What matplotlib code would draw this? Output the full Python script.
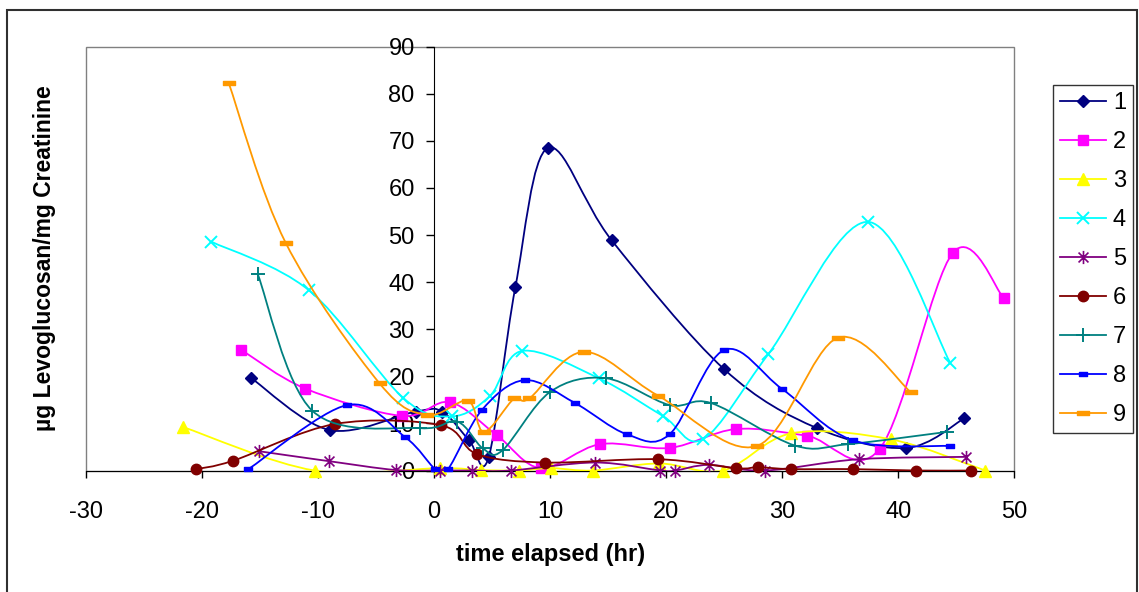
import numpy as np
import matplotlib
matplotlib.use("Agg")
import matplotlib.pyplot as plt
from matplotlib.path import Path
from matplotlib.patches import PathPatch, Rectangle
from matplotlib.lines import Line2D

plt.rcParams['font.family'] = ['Liberation Sans', 'DejaVu Sans']
plt.rcParams['axes.unicode_minus'] = False

# time elapsed (hr) and ug levoglucosan / mg creatinine, one pair per subject
t1 = [-15.8, -9.0, -1.6, 0.7, 3.0, 4.7, 7.0, 9.8, 15.3, 25.0, 33.0, 40.7, 45.7]
v1 = [19.7, 8.6, 12.5, 12.5, 6.5, 2.8, 38.9, 68.5, 48.9, 21.5, 9.0, 4.8, 11.1]

t2 = [-16.6, -11.1, -2.8, 1.35, 5.4, 9.2, 14.3, 20.3, 26.0, 32.1, 38.4, 44.7, 49.1]
v2 = [25.6, 17.4, 11.6, 14.5, 7.5, 0.5, 5.6, 4.8, 8.8, 7.4, 4.6, 46.2, 36.6]

t3 = [-21.6, -10.3, 0.5, 4.0, 7.3, 10.1, 13.7, 19.4, 24.9, 30.8, 39.4, 47.5]
v3 = [9.2, 0.0, 0.5, 0.1, 0.0, 0.5, 0.0, 1.5, 0.0, 7.9, 6.6, 0.0]

t4 = [-19.2, -10.8, -2.7, 1.5, 4.8, 7.6, 14.2, 19.7, 23.2, 28.8, 37.4, 44.5]
v4 = [48.6, 38.3, 15.5, 11.5, 15.8, 25.4, 19.6, 11.6, 6.7, 24.7, 52.8, 22.8]

t5 = [-15.1, -9.1, -3.3, 0.5, 3.3, 6.6, 13.9, 19.5, 20.8, 23.7, 28.5, 36.6, 45.8]
v5 = [4.1, 2.0, 0.1, 0.0, 0.0, 0.0, 1.7, 0.0, 0.0, 1.2, 0.0, 2.4, 2.9]

t6 = [-20.5, -17.3, -8.5, 0.6, 3.7, 9.6, 19.3, 26.0, 27.9, 30.8, 36.1, 41.5, 46.3]
v6 = [0.3, 2.1, 9.9, 9.6, 3.5, 1.7, 2.4, 0.5, 0.7, 0.3, 0.3, 0.0, 0.0]

t7 = [-15.2, -10.5, -1.2, 2.0, 4.2, 5.9, 10.0, 14.8, 20.3, 23.9, 31.1, 35.7, 44.2]
v7 = [41.7, 12.7, 9.0, 10.4, 4.7, 4.3, 16.7, 19.6, 13.9, 14.3, 5.3, 5.6, 8.2]

t8 = [-16.0, -7.5, -2.5, 0.1, 1.2, 4.1, 7.8, 12.1, 16.6, 20.3, 25.0, 30.0, 36.1, 44.5]
v8 = [0.3, 13.9, 7.1, 0.3, 0.3, 12.8, 19.2, 14.4, 7.7, 7.7, 25.6, 17.3, 6.4, 5.2]

t9 = [-17.7, -12.8, -4.7, -0.6, 2.9, 4.3, 6.9, 8.2, 12.9, 19.3, 27.8, 34.8, 41.1]
v9 = [82.3, 48.4, 18.5, 11.8, 14.8, 8.2, 15.3, 15.3, 25.2, 15.9, 5.2, 28.2, 16.6]

names = ['1', '2', '3', '4', '5', '6', '7', '8', '9']
times = [t1, t2, t3, t4, t5, t6, t7, t8, t9]
values = [v1, v2, v3, v4, v5, v6, v7, v8, v9]

colors = ['#000080', '#FF00FF', '#FFFF00', '#00FFFF', '#800080',
          '#800000', '#008080', '#0000FF', '#FF9900']

# custom marker shapes (excel style)
star = Path([(0, -1), (0, 1), (-0.75, -0.75), (0.75, 0.75), (-0.75, 0.75), (0.75, -0.75)],
            [Path.MOVETO, Path.LINETO] * 3)
short_dash = Path([(-1, -0.4), (1, -0.4), (1, 0.4), (-1, 0.4), (-1, -0.4)],
                  [Path.MOVETO, Path.LINETO, Path.LINETO, Path.LINETO, Path.CLOSEPOLY])
long_dash = Path([(-1, -0.3), (1, -0.3), (1, 0.3), (-1, 0.3), (-1, -0.3)],
                 [Path.MOVETO, Path.LINETO, Path.LINETO, Path.LINETO, Path.CLOSEPOLY])

styles = [
    dict(marker='D', ms=6.3),
    dict(marker='s', ms=7.5),
    dict(marker='^', ms=8),
    dict(marker='x', ms=8.5, mew=1.4),
    dict(marker=star, ms=9.5, mew=1.2, mfc='none'),
    dict(marker='o', ms=7.5),
    dict(marker='+', ms=9.5, mew=1.4),
    dict(marker=short_dash, ms=5.5),
    dict(marker=long_dash, ms=8.5),
]


def smooth_path(xs, ys):
    # excel "smoothed line": cubic bezier through the points (catmull-rom)
    pts = np.column_stack([xs, ys]).astype(float)
    n = len(pts)
    verts = [pts[0]]
    codes = [Path.MOVETO]
    for i in range(n - 1):
        p0 = pts[i - 1] if i > 0 else pts[i]
        p1 = pts[i]
        p2 = pts[i + 1]
        p3 = pts[i + 2] if i + 2 < n else pts[i + 1]
        verts += [p1 + (p2 - p0) / 6, p2 - (p3 - p1) / 6, p2]
        codes += [Path.CURVE4] * 3
    return Path(verts, codes)


fig = plt.figure(figsize=(11.39, 5.92), dpi=100)
ax = fig.add_axes([0.0755, 0.2052, 0.8150, 0.7159])
ax.set_xlim(-30, 50)
ax.set_ylim(0, 90)

handles = []
for i in range(len(names)):
    ax.add_patch(PathPatch(smooth_path(times[i], values[i]), fill=False,
                           edgecolor=colors[i], lw=1.3, zorder=2 + i))
    ax.plot(times[i], values[i], ls='none', color=colors[i], zorder=2 + i,
            clip_on=False, **styles[i])
    handles.append(Line2D([], [], color=colors[i], lw=1.3, **styles[i]))

# plot area frame
ax.add_patch(Rectangle((0, 0), 1, 1, transform=ax.transAxes, fill=False,
                       edgecolor='#808080', lw=1.0, clip_on=False, zorder=0))
ax.spines['top'].set_visible(False)
ax.spines['right'].set_visible(False)
ax.spines['left'].set_position(('data', 0))
ax.spines['left'].set_color('black')
ax.spines['bottom'].set_color('black')
ax.spines['left'].set_zorder(1)
ax.spines['bottom'].set_zorder(1)

ax.set_xticks(range(-30, 51, 10))
ax.set_yticks(range(0, 91, 10))
ax.tick_params(axis='x', direction='out', length=5, width=1, pad=17, labelsize=17)
ax.tick_params(axis='y', direction='out', length=6, width=1, pad=8, labelsize=17)

ax.set_xlabel('time elapsed (hr)', fontsize=17, fontweight='bold')
ax.xaxis.label.set_va('center')
ax.xaxis.set_label_coords(0.5, -0.199)
ax.set_ylabel('µg Levoglucosan/mg Creatinine', fontsize=16.5, fontweight='bold')
ax.yaxis.label.set_va('center')
ax.yaxis.set_label_coords(-0.0442, 0.5)

leg = fig.legend(handles, names, loc='upper left',
                 bbox_to_anchor=(1052.7 / 1139, 1 - 85 / 592),
                 frameon=True, fancybox=False, edgecolor='black', fontsize=17,
                 handlelength=1.95, handletextpad=0.3, labelspacing=0.72,
                 borderpad=0.3, borderaxespad=0, numpoints=1)
leg.get_frame().set_linewidth(1.0)

# outer chart border
fig.patches.append(Rectangle((7 / 1139, -0.05), 1130 / 1139, 1 - 10 / 592 + 0.05,
                             transform=fig.transFigure, fill=False,
                             edgecolor='#303030', lw=1.5))

fig.savefig('out.png', dpi=100)
